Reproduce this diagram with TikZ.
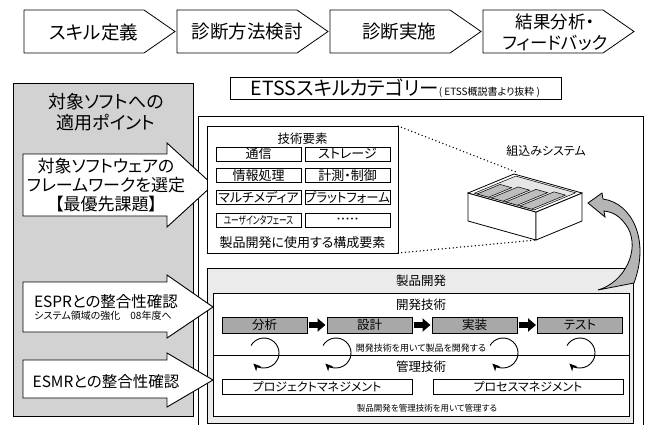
\documentclass[tikz,border=0pt]{standalone}
\usepackage{fontspec}
\setmainfont{Noto Sans CJK JP}[RawFeature=+palt]
\usetikzlibrary{arrows.meta}
\definecolor{panelgray}{HTML}{D2D2D2}
\definecolor{procgray}{HTML}{A8A8A8}
\definecolor{devgray}{HTML}{EBEBEB}
\definecolor{stripgray}{HTML}{BDBDBD}
\definecolor{traygray}{HTML}{E6E6E6}
\definecolor{curvegray}{HTML}{B5B5B5}
\newcommand{\setfz}[2]{\fontsize{#1}{#2}\selectfont}
\begin{document}
\begin{tikzpicture}[x=1pt,y=-1pt,
  every node/.style={inner sep=0pt, outer sep=0pt},
  outline/.style={draw=black, line width=0.8pt},
  chev/.style={outline, fill=white},
  tbox/.style={outline, fill=white, minimum width=85pt, minimum height=14pt, font=\setfz{13}{13}},
  proc/.style={outline, fill=procgray, minimum width=85pt, minimum height=16pt, font=\setfz{12.5}{12.5}},
  mbox/.style={outline, fill=white, minimum width=190pt, minimum height=15pt, font=\setfz{12}{12}},
  bigarrow/.style={draw=black, line width=0.9pt, fill=white},
  blk/.style={line width=5.5pt, -{Triangle[length=8pt,width=13pt]}, shorten <=1.5pt, shorten >=1.5pt},
  cyc/.style={line width=0.9pt, -{Stealth[length=7.5pt,width=7pt]}},
  dots/.style={line width=1.5pt, dash pattern=on 0pt off 3.7pt, line cap=round},
]
\useasboundingbox (0,0) rectangle (652,424);

% ---- process chevrons ----
\foreach \x in {24,177,330,483}{
  \draw[chev] (\x,10) -- ++(120,0) -- ++(31,21.5) -- ++(-31,21.5) -- ++(-120,0) -- cycle;
}
\node[font=\setfz{18.5}{18.5}] (s1) at (94,32) {スキル定義};
\node[font=\setfz{18.5}{18.5}] (s2) at (247,32) {診断方法検討};
\node[font=\setfz{18.5}{18.5}] (s3) at (399,32) {診断実施};
\node[font=\setfz{17.5}{21}, align=center] (s4) at (555,32) {結果分析・\\フィードバック};

% ---- category title ----
\node[outline, minimum width=331pt, minimum height=22pt] (etss) at (395.5,88)
  {{\setfz{19.5}{19.5}ETSSスキルカテゴリー}{\setfz{10}{10}( ETSS概説書より抜粋 )}};

% ---- left panel ----
\node[outline, fill=panelgray, minimum width=180pt, minimum height=333pt, anchor=north west] (panel) at (13,83) {};
\node[font=\setfz{18}{20.5}, align=center] (ptitle) at (106,112) {対象ソフトへの\\適用ポイント};

% ---- right panel and product development area ----
\node[outline, fill=white, minimum width=445pt, minimum height=330pt, anchor=north west] (area) at (198,116) {};
\node[outline, fill=devgray, minimum width=426pt, minimum height=155pt, anchor=north west] (dev) at (207,268) {};
\node[font=\setfz{12.5}{12.5}] (devt) at (421,281) {製品開発};

% ---- application arrows ----
\draw[bigarrow] (23,154) -- (167,154) -- (167,143) -- (213,185) -- (167,227) -- (167,216) -- (23,216) -- cycle;
\draw[bigarrow] (23,282) -- (167,282) -- (167,275) -- (213,307) -- (167,338) -- (167,332) -- (23,332) -- cycle;
\draw[bigarrow] (23,360) -- (167,360) -- (167,353) -- (213,380) -- (167,407) -- (167,398) -- (23,398) -- cycle;
\node[font=\setfz{17}{19}, align=center] (a1t) at (106,185) {対象ソフトウェアの\\フレームワークを選定\\【最優先課題】};
\node[font=\setfz{15.5}{15.5}] (a2t) at (106,302) {ESPRとの整合性確認};
\node[font=\setfz{10}{10}] (a2s) at (103,316) {システム領域の強化　08年度へ};
\node[font=\setfz{15.5}{15.5}] (a3t) at (106,382) {ESMRとの整合性確認};

% ---- technical elements ----
\node[outline, fill=white, minimum width=191pt, minimum height=127pt, anchor=north west] (tech) at (207,126) {};
\node[font=\setfz{12.5}{12.5}] (techt) at (302.5,139) {技術要素};
\node[tbox] (i1) at (258.5,154) {通信};
\node[tbox] (i2) at (347.5,154) {ストレージ};
\node[tbox] (i3) at (258.5,175.5) {情報処理};
\node[tbox] (i4) at (347.5,175.5) {計測・制御};
\node[tbox] (i5) at (258.5,197.5) {マルチメディア};
\node[tbox] (i6) at (347.5,197.5) {\scalebox{0.95}[1]{プラットフォーム}};
\node[tbox, font=\setfz{11}{11}] (i7) at (258.5,220) {\scalebox{0.7}[1]{ユーザインタフェース}};
\node[tbox, font=\setfz{9}{9}] (i8) at (347.5,220) {・・・・・};
\node[font=\setfz{13}{13}] (techb) at (302.5,243) {製品開発に使用する構成要素};

% ---- development / management techniques ----
\node[outline, fill=white, minimum width=416pt, minimum height=123pt, anchor=north west] (tech2) at (213,293) {};
\node[font=\setfz{12.5}{12.5}] (dt) at (421,305) {開発技術};
\node[proc] (p1) at (264.5,325) {分析};
\node[proc] (p2) at (369.5,325) {設計};
\node[proc] (p3) at (474.5,325) {実装};
\node[proc] (p4) at (580,325) {テスト};
\draw[blk] (p1.east) -- (p2.west);
\draw[blk] (p2.east) -- (p3.west);
\draw[blk] (p3.east) -- (p4.west);

\coordinate (hl) at (213,355);
\coordinate (hr) at (629,355);
\draw[outline] (hl) -- (hr);

\foreach \cx in {264,336,503,580}{
  \draw[cyc] (\cx,353) ++(-150:15) arc[start angle=-150, end angle=135, radius=15];
}
\node[font=\setfz{9}{9}] (dtx) at (421,348) {開発技術を用いて製品を開発する};
\node[font=\setfz{12.5}{12.5}] (mt) at (421,367) {管理技術};
\node[mbox] (m1) at (317,386.5) {プロジェクトマネジメント};
\node[mbox] (m2) at (528,386.5) {プロセスマネジメント};
\node[font=\setfz{8.5}{8.5}] (mtx) at (427,408) {製品開発を管理技術を用いて管理する};

% ---- embedded system box ----
\filldraw[outline, fill=white] (468,193) -- (536,212) -- (536,240) -- (468,221) -- cycle;
\filldraw[outline, fill=white] (536,212) -- (582,193) -- (582,221) -- (536,240) -- cycle;
\filldraw[outline, fill=white] (468,193) -- (514,174) -- (582,193) -- (536,212) -- cycle;
\begin{scope}[shift={(468,193)}, x={(46pt,19pt)}, y={(68pt,-19pt)}]
  \filldraw[draw=black, line width=0.5pt, fill=traygray] (0.05,0.06) -- (0.95,0.06) -- (0.95,0.94) -- (0.05,0.94) -- cycle;
  \foreach \va/\vb/\ue in {0.10/0.27/0.55, 0.31/0.48/0.63, 0.52/0.69/0.71, 0.73/0.90/0.79}{
    \filldraw[draw=black, line width=0.5pt, fill=stripgray] (0.05,\va) -- (\ue,\va) -- (\ue,\vb) -- (0.05,\vb) -- cycle;
  }
\end{scope}
\coordinate (boxB) at (516,172);
\coordinate (boxF) at (536,240);
\draw[dots] (tech.north east) -- (boxB);
\draw[dots] (tech.south east) -- (boxF);
\node[font=\setfz{12}{12}] (sys) at (546,151) {組込みシステム};

% ---- feedback arrow ----
\filldraw[outline, fill=curvegray] (588,203) -- (602,193) -- (603,199)
  .. controls (632,203) and (650,240) .. (634,283) -- (598,290)
  .. controls (625,282) and (640,250) .. (628,228)
  .. controls (620,215) and (612,212) .. (604,211) -- (605,217) -- cycle;
\end{tikzpicture}
\end{document}
